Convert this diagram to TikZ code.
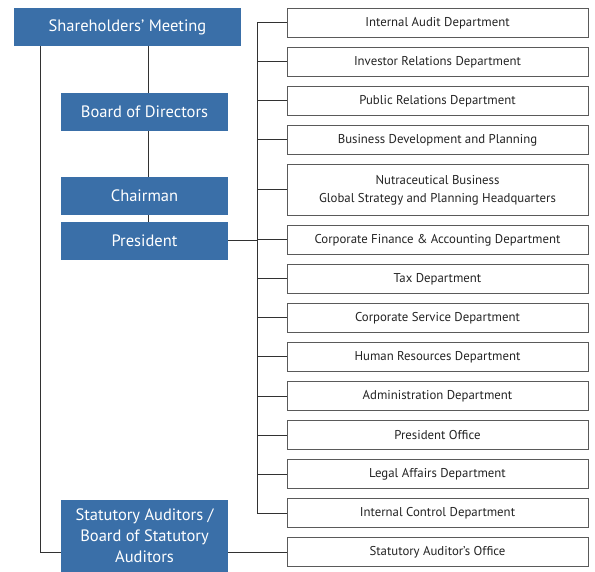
\documentclass[tikz,border=0pt]{standalone}
\usepackage{fontspec}
\setmainfont{PT Sans}
\definecolor{execblue}{RGB}{58,111,168}
\definecolor{deptgray}{RGB}{90,90,90}
\definecolor{linegray}{RGB}{50,50,50}
\definecolor{textgray}{RGB}{35,35,35}

\begin{document}
\begin{tikzpicture}[
x=1pt,y=-1pt,
exec/.style={fill=execblue,text=white,font=\fontsize{16.5}{21}\selectfont,minimum width=167pt,minimum height=38pt,inner sep=0pt,align=center},
dept/.style={draw=deptgray,line width=0.8pt,text=textgray,font=\fontsize{12.8}{18}\selectfont,minimum width=301pt,minimum height=29pt,inner sep=0pt,align=center},
link/.style={draw=linegray,line width=1pt} ]

\useasboundingbox (0,0) rectangle (595,572);

\coordinate (spine) at (148,0);
\coordinate (left) at (40,0);
\coordinate (bus) at (257,0);

\node[exec,minimum width=227pt] (sm) at (127.5,27) {Shareholders’ Meeting};
\node[exec] (bod) at (144.5,112) {Board of Directors};
\node[exec] (chair) at (144.5,196) {Chairman};
\node[exec] (pres) at (144.5,241) {President};
\node[exec,minimum height=72pt] (sa) at (144.5,536) {Statutory Auditors /\\Board of Statutory\\Auditors};

\node[dept] (ia) at (437.5,23) {Internal Audit Department};
\node[dept] (ir) at (437.5,62) {Investor Relations Department};
\node[dept] (pr) at (437.5,101) {Public Relations Department};
\node[dept] (bd) at (437.5,140) {Business Development and Planning};
\node[dept,minimum height=51pt] (nb) at (437.5,190) {Nutraceutical Business\\Global Strategy and Planning Headquarters};
\node[dept] (cf) at (437.5,240) {Corporate Finance \& Accounting Department};
\node[dept] (tax) at (437.5,279) {Tax Department};
\node[dept] (cs) at (437.5,318) {Corporate Service Department};
\node[dept] (hr) at (437.5,357) {Human Resources Department};
\node[dept] (adm) at (437.5,396) {Administration Department};
\node[dept] (po) at (437.5,435) {President Office};
\node[dept] (la) at (437.5,474) {Legal Affairs Department};
\node[dept] (ic) at (437.5,513) {Internal Control Department};
\node[dept] (sao) at (437.5,552) {Statutory Auditor’s Office};

% executive line
\draw[link] (sm.south -| spine) -- (bod.north -| spine);
\draw[link] (bod.south -| spine) -- (chair.north -| spine);
\draw[link] (chair.south -| spine) -- (pres.north -| spine);

% auditors
\draw[link] (sm.south -| left) |- (sa.west |- sao.west);
\draw[link] (sa.east |- sao.west) -- (sao.west);

% departments
\draw[link] (ia.west) -| (bus |- ic.west) -- (ic.west);
\foreach \d in {ir,pr,bd,nb,cf,tax,cs,hr,adm,po,la}
  \draw[link] (\d.west) -- (\d.west -| bus);
\draw[link] (pres.east) -- (pres.east -| bus);

\end{tikzpicture}
\end{document}
